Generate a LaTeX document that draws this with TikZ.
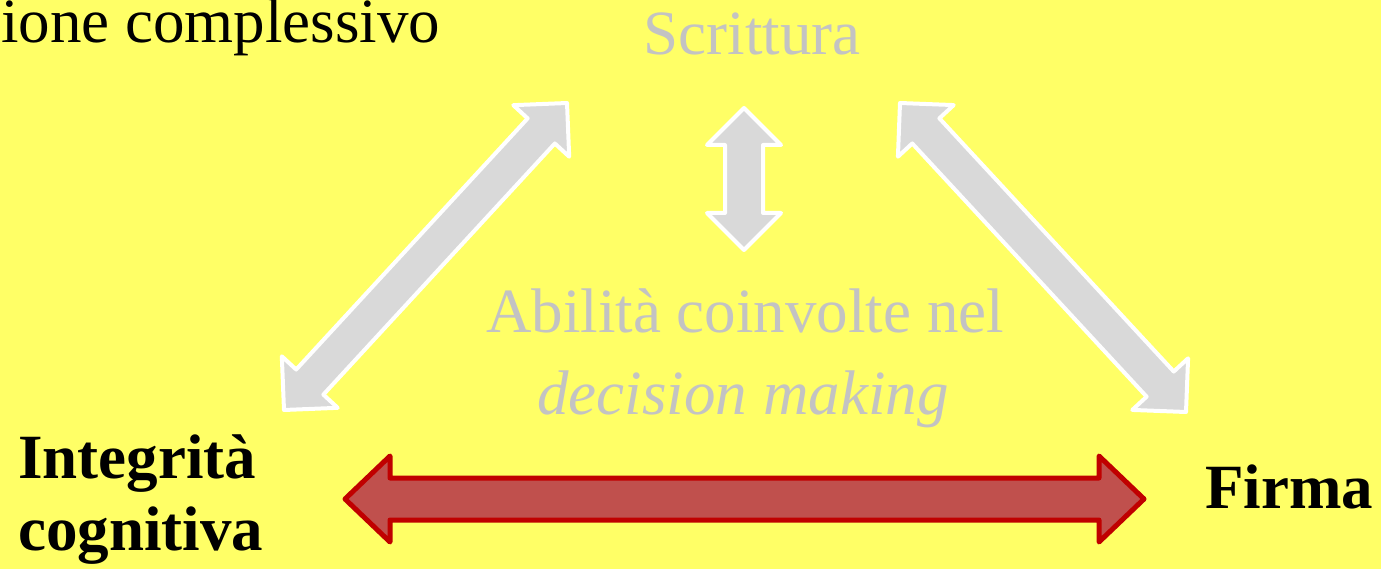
\documentclass[tikz,border=0pt]{standalone}
\usepackage{fontspec}
\setmainfont{Liberation Serif}
\usepackage{tikz}
\usetikzlibrary{calc}
\usetikzlibrary{positioning}

\definecolor{sfondo}{HTML}{FFFF66}
\definecolor{grigio}{HTML}{D9D9D9}
\definecolor{testogrigio}{HTML}{C3C3C3}
\definecolor{rossofill}{HTML}{C0504D}
\definecolor{rossobordo}{HTML}{C00000}

% freccia a blocco doppia da #2 a #3: lunghezza punta #4, mezza larghezza punta #5, mezza larghezza asta #6
\newcommand{\frecciadoppia}[6][]{%
	\draw[#1] (#2)
	-- ($(#2)!#4!(#3)!#5!90:(#3)$)
	-- ($(#2)!#4!(#3)!#6!90:(#3)$)
	-- ($(#3)!#4!(#2)!#6!-90:(#2)$)
	-- ($(#3)!#4!(#2)!#5!-90:(#2)$)
	-- (#3)
	-- ($(#3)!#4!(#2)!#5!90:(#2)$)
	-- ($(#3)!#4!(#2)!#6!90:(#2)$)
	-- ($(#2)!#4!(#3)!#6!-90:(#3)$)
	-- ($(#2)!#4!(#3)!#5!-90:(#3)$)
	-- cycle;}

\begin{document}
\begin{tikzpicture}
	[x=1pt, y=-1pt,
	testo/.style = {font=\fontsize{63}{63}\selectfont, inner sep=0pt},
	chiaro/.style = {testo, text=testogrigio},
	scuro/.style = {testo, font=\fontsize{63}{63}\selectfont\bfseries},
	frecciagrigia/.style = {fill=grigio, draw=white, line width=4pt, line join=round},
	frecciarossa/.style = {fill=rossofill, draw=rossobordo, line width=5pt, line join=round}
	]
	\fill[sfondo] (0,0) rectangle (1381,569);
	\useasboundingbox (0,0) rectangle (1381,569);

	% testi
	\node[testo, anchor=base west] (titolo) at (1,43) {ione complessivo};
	\node[chiaro, anchor=base] (scrittura) at (752,55) {Scrittura};
	\node[chiaro, anchor=base] (abilita) at (745,332) {Abilità coinvolte nel};
	\node[chiaro, anchor=base, font=\fontsize{63}{63}\selectfont\itshape] (decision) at (743,414) {decision making};
	\node[scuro, anchor=base west] (integrita) at (18,478) {Integrità};
	\node[scuro, anchor=base west] (cognitiva) at (18,550) {cognitiva};
	\node[scuro, anchor=base west] (firma) at (1205,508) {Firma};

	% estremi delle frecce
	\coordinate (sx1) at (284,410);
	\coordinate (sx2) at (567,103);
	\coordinate (cn1) at (744,108);
	\coordinate (cn2) at (744,250);
	\coordinate (dx1) at (900,103);
	\coordinate (dx2) at (1186,412);
	\coordinate (rs1) at (345,499);
	\coordinate (rs2) at (1144,499);

	\frecciadoppia[frecciagrigia]{sx1}{sx2}{38pt}{38pt}{18.5pt}
	\frecciadoppia[frecciagrigia]{cn1}{cn2}{37pt}{37pt}{19pt}
	\frecciadoppia[frecciagrigia]{dx1}{dx2}{38pt}{38pt}{18.5pt}
	\frecciadoppia[frecciarossa]{rs1}{rs2}{45pt}{43pt}{21pt}
\end{tikzpicture}
\end{document}
